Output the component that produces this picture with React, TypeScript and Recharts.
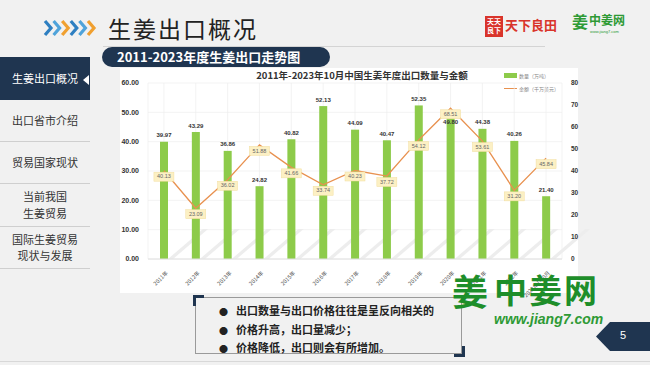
import React from 'react';
import { ComposedChart, Bar, Line, XAxis, YAxis, CartesianGrid, LabelList } from 'recharts';

const years = ['2011年', '2012年', '2013年', '2014年', '2015年', '2016年', '2017年', '2018年', '2019年', '2020年', '2021年', '2022年', '2023年1-10月'];
const volume = [39.97, 43.29, 36.86, 24.82, 40.82, 52.13, 44.09, 40.47, 52.35, 49.8, 44.38, 40.26, 21.4];
const amount = [40.13, 23.09, 36.02, 51.88, 41.66, 33.74, 40.23, 37.72, 54.12, 68.51, 53.61, 31.2, 45.84];
const leftTicks = [0, 10, 20, 30, 40, 50, 60];
const rightTicks = [0, 10, 20, 30, 40, 50, 60, 70, 80];
const chartTitle = '2011年-2023年10月中国生姜年度出口数量与金额';
const seriesNames = ['数量（万吨）', '金额（千万美元）'];
const pageTitle = '生姜出口概况';
const sectionTitle = '2011-2023年度生姜出口走势图';
const menuItems = [['生姜出口概况'], ['出口省市介绍'], ['贸易国家现状'], ['当前我国', '生姜贸易'], ['国际生姜贸易', '现状与发展']];
const notes = ['出口数量与出口价格往往是呈反向相关的', '价格升高，出口量减少；', '价格降低，出口则会有所增加。'];
const pageNumber = '5';

const data = years.map((y, i) => ({ year: y, volume: volume[i], amount: amount[i] }));

const CJK = '"Noto Sans CJK SC", "Liberation Sans", sans-serif';
const NUM = '"Liberation Sans", Arial, sans-serif';
const NAVY = '#1F3550';
const GREEN = '#8DCB4A';
const ORANGE = '#E8914F';
const LEFT_MAX = 60;
const RIGHT_MAX = 80;

const XTick = (props: any) => {
  const { x, y, payload } = props;
  return (
    <g transform={`translate(${x + 3},${y + 5})`}>
      <text transform="rotate(-45)" textAnchor="end" fontSize={5.5} fill="#555" fontFamily={CJK} dy={2}>
        {payload.value}
      </text>
    </g>
  );
};

const BarShape = (props: any) => {
  const { x, y, width, height, fill } = props;
  const bottom = y + height;
  const sx = x + width;
  return (
    <g>
      <polygon
        points={`${sx},${bottom} ${sx + 5},${bottom} ${sx + 40},${bottom - 30} ${sx + 35},${bottom - 30}`}
        fill="#EDEDED"
      />
      <rect x={x} y={y} width={width} height={height} fill={fill} />
    </g>
  );
};

const BarLabel = (props: any) => {
  const { x, y, width, height, value, index } = props;
  const zeroY = y + height;
  const pxPerUnit = height / value;
  const lineY = zeroY - amount[index] * pxPerUnit * (LEFT_MAX / RIGHT_MAX) + 6;
  let ly = y - 6;
  if (Math.abs(lineY - ly) < 10) ly = y + 10;
  return (
    <text x={x + width / 2} y={ly} textAnchor="middle" dominantBaseline="middle" fontSize={6} fontWeight="bold" fill="#333" fontFamily={NUM}>
      {Number(value).toFixed(2)}
    </text>
  );
};

const LineLabel = (props: any) => {
  const { x, y, value } = props;
  return (
    <g>
      <rect x={x - 10} y={y + 1.5} width={20} height={9} fill="#FCF0C4" stroke="#F2DE9E" strokeWidth={0.5} />
      <text x={x} y={y + 6.2} textAnchor="middle" dominantBaseline="middle" fontSize={5.5} fill="#666" fontFamily={NUM}>
        {Number(value).toFixed(2)}
      </text>
    </g>
  );
};

const Chevron = ({ x, color }: { x: number; color: string }) => (
  <polyline points={`${x},2 ${x + 6},9 ${x},16`} fill="none" stroke={color} strokeWidth={3.2} />
);

export default function App() {
  const chevColors = ['#2E7FC1', '#4FA3DA', '#F0A030', '#2E7FC1', '#4FA3DA', '#F0A030'];
  return (
    <div style={{ position: 'fixed', left: 0, top: 0, width: 650, height: 365, background: '#F1F1F1', overflow: 'hidden', fontFamily: CJK }}>
      {/* header chevrons */}
      <svg style={{ position: 'absolute', left: 43, top: 19 }} width={60} height={18}>
        {chevColors.map((c, i) => (
          <Chevron key={i} x={2 + i * 8.6} color={c} />
        ))}
      </svg>
      <div style={{ position: 'absolute', left: 108, top: 14, fontSize: 23, lineHeight: '28px', color: '#222', letterSpacing: 2 }}>{pageTitle}</div>
      <div style={{ position: 'absolute', left: 103, top: 46, width: 442, height: 1, background: '#D4D4D4' }} />

      {/* top-right logos */}
      <div style={{ position: 'absolute', left: 485, top: 16, width: 18, height: 20, background: '#D9342B', color: '#fff', fontSize: 7, lineHeight: '9px', textAlign: 'center', fontWeight: 'bold', paddingTop: 1 }}>
        天天<br />良下
      </div>
      <div style={{ position: 'absolute', left: 505, top: 17, fontSize: 13, lineHeight: '16px', color: '#D9342B', fontWeight: 'bold' }}>天下良田</div>
      <div style={{ position: 'absolute', left: 572, top: 11, fontSize: 16, lineHeight: '20px', color: '#2E9A35', fontWeight: 'bold' }}>姜</div>
      <div style={{ position: 'absolute', left: 589, top: 12, fontSize: 12, lineHeight: '15px', color: '#2E9A35', fontWeight: 'bold' }}>中姜网</div>
      <div style={{ position: 'absolute', left: 590, top: 29, fontSize: 4, lineHeight: '6px', color: '#2E9A35', fontFamily: NUM }}>www.jiang7.com</div>

      {/* section pill */}
      <div style={{ position: 'absolute', left: 102, top: 47, width: 228, height: 20, background: NAVY, borderRadius: 10, color: '#fff', fontSize: 13, lineHeight: '20px', fontWeight: 'bold', paddingLeft: 15, boxSizing: 'border-box' }}>
        {sectionTitle}
      </div>

      {/* sidebar */}
      <div style={{ position: 'absolute', left: 0, top: 57, width: 90, height: 43, background: NAVY }} />
      <svg style={{ position: 'absolute', left: 82, top: 74 }} width={8} height={12}>
        <polygon points="1,6 7,1 7,11" fill="#fff" />
      </svg>
      {menuItems.map((lines, i) => {
        const tops = [57, 100, 141, 183, 226];
        const bottoms = [100, 141, 183, 226, 268];
        return (
          <React.Fragment key={i}>
            <div style={{ position: 'absolute', left: 0, top: tops[i], width: 90, height: bottoms[i] - tops[i], display: 'flex', flexDirection: 'column', justifyContent: 'center', alignItems: 'center', color: i === 0 ? '#fff' : '#333', fontSize: 11, lineHeight: '16.5px' }}>
              {lines.map((l, j) => (
                <div key={j}>{l}</div>
              ))}
            </div>
            {i > 0 && <div style={{ position: 'absolute', left: 0, top: bottoms[i], width: 90, height: 1, background: '#CFCFCF' }} />}
          </React.Fragment>
        );
      })}

      {/* chart box */}
      <div style={{ position: 'absolute', left: 120, top: 68, width: 458, height: 225, background: '#fff' }} />
      <div style={{ position: 'absolute', left: 120, top: 69, width: 484, textAlign: 'center', fontSize: 9.5, lineHeight: '12px', fontWeight: 'bold', color: '#333' }}>{chartTitle}</div>
      {/* legend */}
      <div style={{ position: 'absolute', left: 504, top: 73, width: 13, height: 5, background: GREEN }} />
      <div style={{ position: 'absolute', left: 519, top: 72, fontSize: 5, lineHeight: '7px', color: '#888' }}>{seriesNames[0]}</div>
      <div style={{ position: 'absolute', left: 504, top: 88, width: 13, height: 1, background: ORANGE }} />
      <div style={{ position: 'absolute', left: 519, top: 85, fontSize: 5, lineHeight: '7px', color: '#888' }}>{seriesNames[1]}</div>

      <div style={{ position: 'absolute', left: 100, top: 60 }}>
        <ComposedChart width={490} height={240} data={data} margin={{ top: 23, right: 8, bottom: 0, left: 0 }}>
          <CartesianGrid yAxisId="left" stroke="#EEEEEE" strokeWidth={0.7} />
          <XAxis dataKey="year" interval={0} tick={<XTick />} tickLine={false} axisLine={{ stroke: '#E0E0E0' }} height={41} />
          <YAxis
            yAxisId="left"
            domain={[0, LEFT_MAX]}
            ticks={leftTicks}
            width={48}
            tickLine={false}
            axisLine={false}
            tickMargin={3}
            tickFormatter={(v: number) => v.toFixed(2)}
            tick={{ fontSize: 7, fontWeight: 'bold', fill: '#333', fontFamily: NUM }}
          />
          <YAxis
            yAxisId="right"
            orientation="right"
            domain={[0, RIGHT_MAX]}
            ticks={rightTicks}
            width={20}
            tickLine={false}
            axisLine={false}
            tickMargin={3}
            tick={{ fontSize: 6.5, fontWeight: 'bold', fill: '#333', fontFamily: NUM, textAnchor: 'start' }}
          />
          <Bar yAxisId="left" dataKey="volume" fill={GREEN} barSize={8} shape={<BarShape />} isAnimationActive={false}>
            <LabelList dataKey="volume" content={<BarLabel />} />
          </Bar>
          <Line yAxisId="right" type="linear" dataKey="amount" stroke={ORANGE} strokeWidth={1.3} dot={false} isAnimationActive={false}>
            <LabelList dataKey="amount" content={<LineLabel />} />
          </Line>
        </ComposedChart>
      </div>

      {/* notes box */}
      <div style={{ position: 'absolute', left: 195, top: 297, width: 267, height: 57, border: '1px solid #9A9A9A', boxSizing: 'border-box', background: '#F1F1F1' }} />
      <div style={{ position: 'absolute', left: 193, top: 295, width: 8, height: 8, borderLeft: `3px solid ${NAVY}`, borderTop: `3px solid ${NAVY}` }} />
      <div style={{ position: 'absolute', left: 454, top: 346, width: 8, height: 8, borderRight: `3px solid ${NAVY}`, borderBottom: `3px solid ${NAVY}` }} />
      {notes.map((n, i) => (
        <div key={i} style={{ position: 'absolute', left: 219, top: 303 + i * 18.5, fontSize: 11, lineHeight: '14px', fontWeight: 'bold', color: '#222', whiteSpace: 'nowrap' }}>
          <span style={{ fontSize: 9, marginRight: 8 }}>●</span>
          {n}
        </div>
      ))}

      {/* watermark */}
      <div style={{ position: 'absolute', left: 452, top: 270, fontSize: 36, lineHeight: '40px', fontWeight: 'bold', color: '#1E8E2A' }}>姜</div>
      <div style={{ position: 'absolute', left: 494, top: 271, fontSize: 33, lineHeight: '36px', fontWeight: 'bold', color: '#1E8E2A', letterSpacing: 2 }}>中姜网</div>
      <div style={{ position: 'absolute', left: 494, top: 312, fontSize: 14, lineHeight: '15px', fontWeight: 'bold', fontStyle: 'italic', color: '#2E9A35', fontFamily: NUM }}>www.jiang7.com</div>

      {/* page number */}
      <svg style={{ position: 'absolute', left: 596, top: 322 }} width={54} height={29}>
        <polygon points="0,14.5 14,0 54,0 54,29 14,29" fill={NAVY} />
      </svg>
      <div style={{ position: 'absolute', left: 620, top: 328, fontSize: 11, lineHeight: '14px', color: '#fff', fontFamily: NUM }}>{pageNumber}</div>
      <div style={{ position: 'absolute', left: 0, top: 361, width: 650, height: 1, background: '#D8D8D8' }} />
    </div>
  );
}
